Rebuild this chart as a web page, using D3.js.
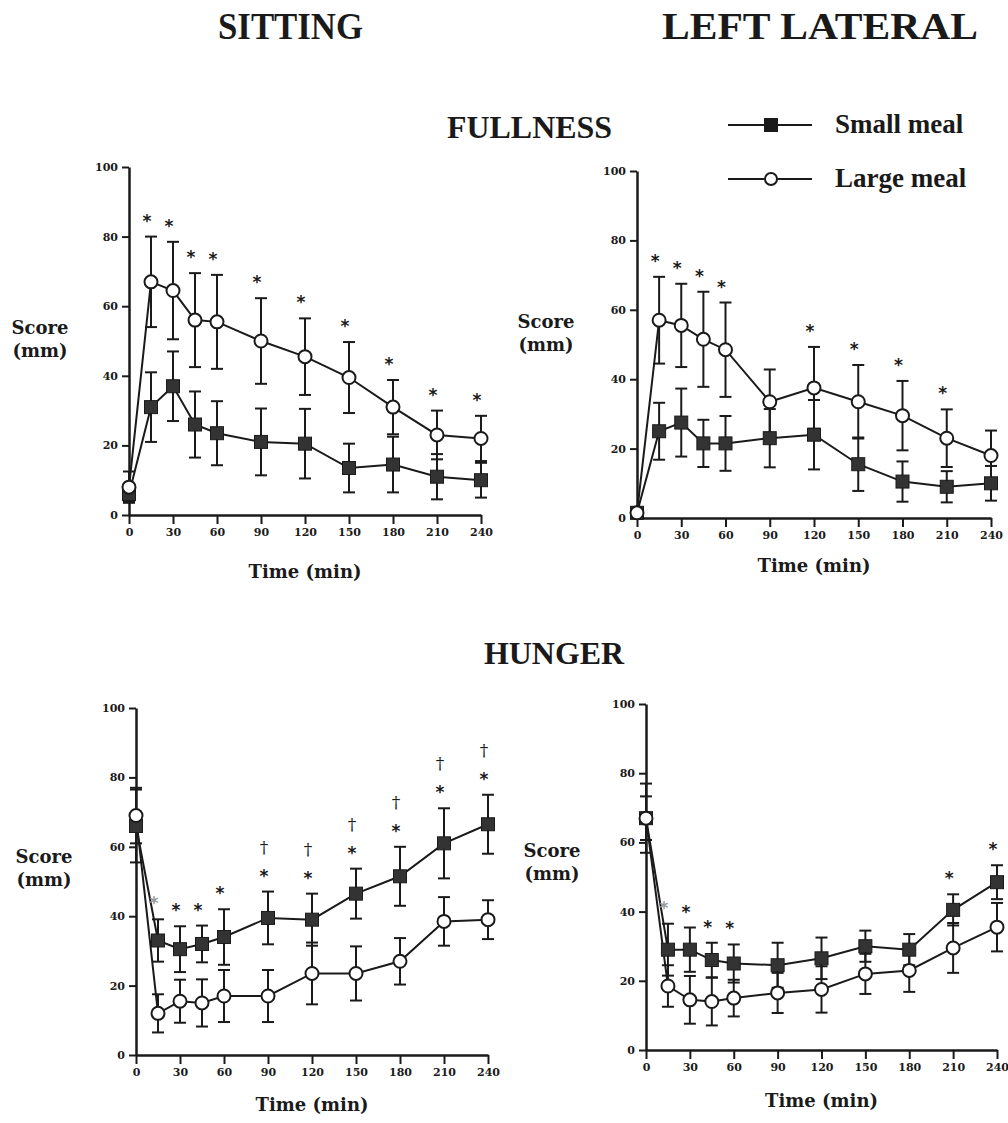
<!DOCTYPE html>
<html>
<head>
<meta charset="utf-8">
<script src="https://cdn.jsdelivr.net/npm/d3@7"></script>
<style>
  body { margin: 0; background: #fff; }
  svg { display: block; }
  .heading { font-family: 'Liberation Serif', serif; font-weight: bold; fill: #1a1a1a; }
  .axis-label { font-family: 'DejaVu Serif', serif; font-weight: bold; font-size: 18px; fill: #1a1a1a; }
</style>
</head>
<body>
<svg width="1008" height="1123"></svg>
<script>
// data (mean and error, score in mm)
const times = [0, 15, 30, 45, 60, 90, 120, 150, 180, 210, 240];
const xTicks = [0, 30, 60, 90, 120, 150, 180, 210, 240];
const yTicks = [0, 20, 40, 60, 80, 100];

// fullness, sitting
const fullSitSmall    = [6, 31, 37, 26, 23.5, 21, 20.5, 13.5, 14.5, 11, 10];
const fullSitSmallErr = [2, 10, 10, 9.5, 9.2, 9.6, 10, 7, 8, 6.5, 5];
const fullSitLarge    = [8, 67, 64.5, 56, 55.5, 50, 45.5, 39.5, 31, 23, 22];
const fullSitLargeErr = [4.5, 13, 14, 13.5, 13.5, 12.3, 11, 10.2, 7.8, 7, 6.5];
const fullSitStars    = [15, 30, 45, 60, 90, 120, 150, 180, 210, 240];
const fullSitDaggers  = [];

// fullness, left lateral
const fullLatSmall    = [1.5, 25, 27.5, 21.5, 21.5, 23, 24, 15.5, 10.5, 9, 10];
const fullLatSmallErr = [1, 8.2, 9.8, 6.8, 7.9, 8.4, 10, 7.7, 5.8, 4.5, 5];
const fullLatLarge    = [1.5, 57, 55.5, 51.5, 48.5, 33.5, 37.5, 33.5, 29.5, 23, 18];
const fullLatLargeErr = [1, 12.5, 12, 13.7, 13.6, 9.3, 11.8, 10.6, 10, 8.3, 7.2];
const fullLatStars    = [15, 30, 45, 60, 120, 150, 180, 210];
const fullLatDaggers  = [];

// hunger, sitting
const hungSitSmall    = [66, 33, 30.5, 32, 34, 39.5, 39, 46.5, 51.5, 61, 66.5];
const hungSitSmallErr = [10.5, 6.1, 6.6, 5.3, 8, 7.6, 7.5, 7.2, 8.5, 10.1, 8.5];
const hungSitLarge    = [69, 12, 15.5, 15, 17, 17, 23.5, 23.5, 27, 38.5, 39];
const hungSitLargeErr = [8, 5.5, 6.2, 6.8, 7.5, 7.5, 8.9, 7.8, 6.7, 7, 5.6];
const hungSitStars    = [15, 30, 45, 60, 90, 120, 150, 180, 210, 240];
const hungSitDaggers  = [90, 120, 150, 180, 210, 240];

// hunger, left lateral
const hungLatSmall    = [67, 29, 29, 26, 25, 24.5, 26.5, 30, 29, 40.5, 48.5];
const hungLatSmallErr = [10, 7.5, 6.4, 5, 5.5, 6.5, 6, 4.5, 4.5, 4.5, 4.9];
const hungLatLarge    = [67, 18.5, 14.5, 14, 15, 16.5, 17.5, 22, 23, 29.5, 35.5];
const hungLatLargeErr = [6.3, 6, 6.9, 6.9, 5.3, 5.8, 6.7, 5.8, 6.2, 7.2, 7];
const hungLatStars    = [15, 30, 45, 60, 210, 240];
const hungLatDaggers  = [];

const faintStars = [15]; // the 15 min asterisk is printed faint in the hunger panels

const svg = d3.select('svg');

const zip = (vals, errs) => times.map((t, i) => ({ t, v: vals[i], e: errs[i] }));

// panel layout: x of the y axis, pixel rows of 0 and 100, x of 240 min
const panels = [
  { ax: 129, y0: 515, y100: 167, x240: 481, scoreX: 40, scoreY: 334, timeY: 578,
    small: zip(fullSitSmall, fullSitSmallErr), large: zip(fullSitLarge, fullSitLargeErr),
    stars: fullSitStars, daggers: fullSitDaggers, faint: false },
  { ax: 637, y0: 518, y100: 171, x240: 991, scoreX: 546, scoreY: 328, timeY: 572,
    small: zip(fullLatSmall, fullLatSmallErr), large: zip(fullLatLarge, fullLatLargeErr),
    stars: fullLatStars, daggers: fullLatDaggers, faint: false },
  { ax: 136, y0: 1055, y100: 708, x240: 488, scoreX: 44, scoreY: 863, timeY: 1111,
    small: zip(hungSitSmall, hungSitSmallErr), large: zip(hungSitLarge, hungSitLargeErr),
    stars: hungSitStars, daggers: hungSitDaggers, faint: true },
  { ax: 646, y0: 1050, y100: 704, x240: 997, scoreX: 552, scoreY: 857, timeY: 1107,
    small: zip(hungLatSmall, hungLatSmallErr), large: zip(hungLatLarge, hungLatLargeErr),
    stars: hungLatStars, daggers: hungLatDaggers, faint: true }
];

const drawPanel = p => {
  const xScale = d3.scaleLinear().domain([0, 240]).range([p.ax, p.x240]);
  const yScale = d3.scaleLinear().domain([0, 100]).range([p.y0, p.y100]);
  const g = svg.append('g');

  // axes
  const yAxisG = g.append('g')
    .attr('transform', `translate(${p.ax},0)`)
    .call(d3.axisLeft(yScale).tickValues(yTicks).tickSize(7).tickSizeOuter(0).tickPadding(4));
  const xAxisG = g.append('g')
    .attr('transform', `translate(0,${p.y0})`)
    .call(d3.axisBottom(xScale).tickValues(xTicks).tickSize(9).tickSizeOuter(0).tickPadding(4));
  [yAxisG, xAxisG].forEach(a => {
    a.select('.domain').attr('stroke', '#1a1a1a').attr('stroke-width', 2.5);
    a.selectAll('.tick line').attr('stroke', '#1a1a1a').attr('stroke-width', 2);
    a.selectAll('.tick text')
      .attr('font-family', 'DejaVu Serif, serif')
      .attr('font-weight', 'bold')
      .attr('font-size', 11)
      .attr('fill', '#1a1a1a');
  });

  // axis labels
  g.append('text').attr('class', 'axis-label')
    .attr('x', p.scoreX).attr('y', p.scoreY).attr('text-anchor', 'middle').text('Score');
  g.append('text').attr('class', 'axis-label')
    .attr('x', p.scoreX).attr('y', p.scoreY + 23).attr('text-anchor', 'middle').text('(mm)');
  g.append('text').attr('class', 'axis-label')
    .attr('x', (p.ax + p.x240) / 2).attr('y', p.timeY).attr('text-anchor', 'middle').text('Time (min)');

  // error bars
  const capW = 6;
  [p.small, p.large].forEach(series => {
    const eb = g.append('g').selectAll('g').data(series).enter().append('g')
      .attr('stroke', '#1a1a1a').attr('stroke-width', 2);
    eb.append('line')
      .attr('x1', d => xScale(d.t)).attr('x2', d => xScale(d.t))
      .attr('y1', d => yScale(d.v - d.e)).attr('y2', d => yScale(d.v + d.e));
    eb.append('line')
      .attr('x1', d => xScale(d.t) - capW).attr('x2', d => xScale(d.t) + capW)
      .attr('y1', d => yScale(d.v + d.e)).attr('y2', d => yScale(d.v + d.e));
    eb.append('line')
      .attr('x1', d => xScale(d.t) - capW).attr('x2', d => xScale(d.t) + capW)
      .attr('y1', d => yScale(d.v - d.e)).attr('y2', d => yScale(d.v - d.e));
  });

  // lines
  const line = d3.line().x(d => xScale(d.t)).y(d => yScale(d.v));
  [p.small, p.large].forEach(series => {
    g.append('path').datum(series)
      .attr('d', line).attr('fill', 'none')
      .attr('stroke', '#1a1a1a').attr('stroke-width', 2);
  });

  // markers
  const sq = 13;
  g.append('g').selectAll('rect').data(p.small).enter().append('rect')
    .attr('x', d => xScale(d.t) - sq / 2).attr('y', d => yScale(d.v) - sq / 2)
    .attr('width', sq).attr('height', sq)
    .attr('fill', '#333').attr('stroke', '#1a1a1a').attr('stroke-width', 1);
  g.append('g').selectAll('circle').data(p.large).enter().append('circle')
    .attr('cx', d => xScale(d.t)).attr('cy', d => yScale(d.v)).attr('r', 6.5)
    .attr('fill', '#fff').attr('stroke', '#1a1a1a').attr('stroke-width', 2);

  // significance marks above the highest error bar
  const topAt = t => {
    const i = times.indexOf(t);
    return Math.max(p.small[i].v + p.small[i].e, p.large[i].v + p.large[i].e);
  };
  g.append('g').selectAll('text').data(p.stars).enter().append('text')
    .attr('x', t => xScale(t) - 4)
    .attr('y', t => yScale(topAt(t)) - 20 + 10)
    .attr('text-anchor', 'middle')
    .attr('font-family', 'DejaVu Sans, sans-serif').attr('font-weight', 'bold')
    .attr('font-size', 17)
    .attr('fill', t => (p.faint && faintStars.includes(t)) ? '#999' : '#1a1a1a')
    .text('*');
  g.append('g').selectAll('text').data(p.daggers).enter().append('text')
    .attr('x', t => xScale(t) - 4)
    .attr('y', t => yScale(topAt(t)) - 44 + 5)
    .attr('text-anchor', 'middle')
    .attr('font-family', 'DejaVu Serif, serif')
    .attr('font-size', 17)
    .attr('fill', '#1a1a1a')
    .text('\u2020');
};

panels.forEach(drawPanel);

// headings
const heading = (text, x, y, size, len) => svg.append('text').attr('class', 'heading')
  .attr('x', x).attr('y', y).attr('font-size', size)
  .attr('textLength', len).attr('lengthAdjust', 'spacingAndGlyphs').text(text);
heading('SITTING', 218, 39, 37, 145);
heading('LEFT LATERAL', 662, 39, 37, 316);
heading('FULLNESS', 447, 138, 32, 165);
heading('HUNGER', 484, 664, 32, 140);

// legend
const legend = svg.append('g');
const legendItems = [
  { label: 'Small meal', y: 125, shape: 'square' },
  { label: 'Large meal', y: 179, shape: 'circle' }
];
legendItems.forEach(it => {
  legend.append('line').attr('x1', 728).attr('x2', 812).attr('y1', it.y).attr('y2', it.y)
    .attr('stroke', '#1a1a1a').attr('stroke-width', 2);
  if (it.shape === 'square') {
    legend.append('rect').attr('x', 764).attr('y', it.y - 7).attr('width', 14).attr('height', 14)
      .attr('fill', '#1a1a1a');
  } else {
    legend.append('circle').attr('cx', 771).attr('cy', it.y).attr('r', 6)
      .attr('fill', '#fff').attr('stroke', '#1a1a1a').attr('stroke-width', 2);
  }
  legend.append('text').attr('class', 'heading')
    .attr('x', 835).attr('y', it.y + 4 + 4).attr('font-size', 27).text(it.label);
});
</script>
</body>
</html>
